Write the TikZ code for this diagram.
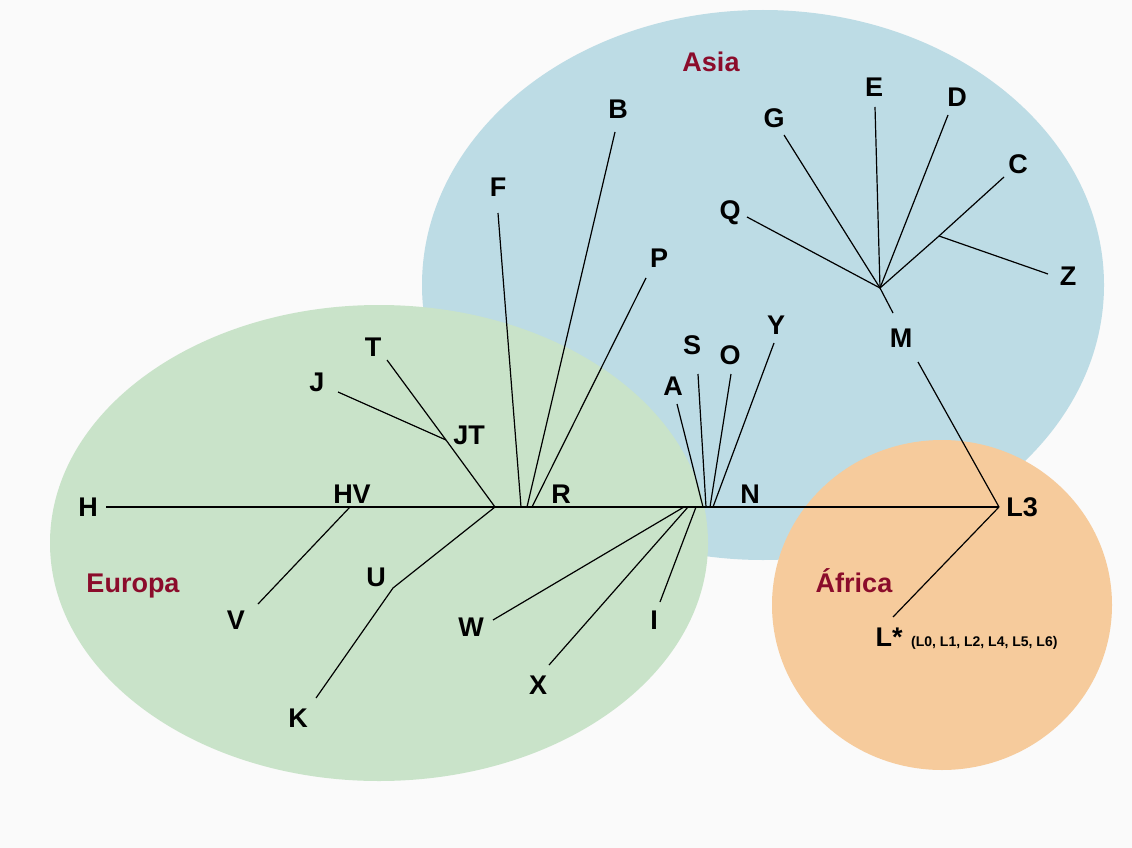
\documentclass[tikz,border=0pt]{standalone}
\usepackage{fontspec}
\setmainfont{Liberation Sans}
\definecolor{asiablue}{HTML}{BDDCE5}
\definecolor{eugreen}{HTML}{C9E3C9}
\definecolor{afrorange}{HTML}{F6CB9C}
\definecolor{regred}{HTML}{8B0C2B}
\definecolor{bgcol}{HTML}{FAFAFA}
\begin{document}
\begin{tikzpicture}[x=1pt,y=-1pt,
  lab/.style={font=\bfseries\fontsize{27}{32}\selectfont, inner sep=0pt, text height=19.3pt, text depth=0pt},
  region/.style={lab, text=regred},
  small/.style={font=\bfseries\fontsize{14}{16}\selectfont, inner sep=0pt},
  branch/.style={line width=1.2pt, black},
]
\fill[bgcol] (0,0) rectangle (1132,848);
\useasboundingbox (0,0) rectangle (1132,848);
% regions
\fill[asiablue] (763,285) ellipse [x radius=341pt, y radius=275pt];
\fill[eugreen] (379,543) ellipse [x radius=329pt, y radius=238pt];
\fill[afrorange] (942,605) ellipse [x radius=170pt, y radius=165pt];
\node[region] (asia) at (711,62) {Asia};
\node[region] (europa) at (133,583) {Europa};
\node[region] (africa) at (854,583) {África};

% junctions on the main line
\coordinate (Hend) at (106,507);
\coordinate (HVj) at (350,507);
\coordinate (JTroot) at (495,507);
\coordinate (Fb) at (521,507);
\coordinate (Bb) at (527,507);
\coordinate (Pb) at (532,507);
\coordinate (Wb) at (684,507);
\coordinate (Xb) at (688,507);
\coordinate (Ib) at (696,507);
\coordinate (Ab) at (703,507);
\coordinate (Sb) at (706,507);
\coordinate (Ob) at (710,507);
\coordinate (Yb) at (713,507);
\coordinate (L3j) at (999,507);
% other junctions and free ends
\coordinate (Vend) at (258,604);
\coordinate (Uj) at (393,588);
\coordinate (Kend) at (316,698);
\coordinate (JTj) at (446,440);
\coordinate (Tend) at (387,360);
\coordinate (Jend) at (338,392);
\coordinate (Fend) at (498,213);
\coordinate (Bend) at (615,132);
\coordinate (Pend) at (646,278);
\coordinate (Aend) at (677,404);
\coordinate (Send) at (698,374);
\coordinate (Oend) at (731,374);
\coordinate (Yend) at (774,343);
\coordinate (Wend) at (493,620);
\coordinate (Xend) at (549,665);
\coordinate (Iend) at (660,602);
\coordinate (Mlow) at (918,362);
\coordinate (Mup) at (893,313);
\coordinate (Mj) at (880,288);
\coordinate (Qend) at (747,217);
\coordinate (Gend) at (784,135);
\coordinate (Eend) at (875,107);
\coordinate (Dend) at (948,115);
\coordinate (Cend) at (1004,177);
\coordinate (Zj) at (939,236);
\coordinate (Zend) at (1048,274);
\coordinate (Lsend) at (893,617);

% branches
\draw[branch] (Hend) -- (L3j);
\draw[branch] (HVj) -- (Vend);
\draw[branch] (JTroot) -- (Uj) -- (Kend);
\draw[branch] (JTroot) -- (JTj) -- (Tend);
\draw[branch] (JTj) -- (Jend);
\draw[branch] (Fb) -- (Fend);
\draw[branch] (Bb) -- (Bend);
\draw[branch] (Pb) -- (Pend);
\draw[branch] (Ab) -- (Aend);
\draw[branch] (Sb) -- (Send);
\draw[branch] (Ob) -- (Oend);
\draw[branch] (Yb) -- (Yend);
\draw[branch] (Wb) -- (Wend);
\draw[branch] (Xb) -- (Xend);
\draw[branch] (Ib) -- (Iend);
\draw[branch] (L3j) -- (Mlow);
\draw[branch] (Mup) -- (Mj);
\draw[branch] (Mj) -- (Qend);
\draw[branch] (Mj) -- (Gend);
\draw[branch] (Mj) -- (Eend);
\draw[branch] (Mj) -- (Dend);
\draw[branch] (Mj) -- (Zj) -- (Cend);
\draw[branch] (Zj) -- (Zend);
\draw[branch] (L3j) -- (Lsend);

% labels
\node[lab] (lH) at (88,507) {H};
\node[lab] (lHV) at (352,494) {HV};
\node[lab] (lV) at (236,620) {V};
\node[lab] (lU) at (376,577) {U};
\node[lab] (lK) at (298,718) {K};
\node[lab] (lJ) at (317,382) {J};
\node[lab] (lT) at (373,347) {T};
\node[lab] (lJT) at (469,435) {JT};
\node[lab] (lR) at (561,494) {R};
\node[lab] (lF) at (498,187) {F};
\node[lab] (lB) at (618,109) {B};
\node[lab] (lP) at (659,258) {P};
\node[lab] (lA) at (673,386) {A};
\node[lab] (lS) at (692,345) {S};
\node[lab] (lO) at (730,355) {O};
\node[lab] (lY) at (776,325) {Y};
\node[lab] (lN) at (750,494) {N};
\node[lab] (lW) at (471,627) {W};
\node[lab] (lX) at (538,685) {X};
\node[lab] (lI) at (654,620) {I};
\node[lab] (lM) at (901,338) {M};
\node[lab] (lQ) at (730,210) {Q};
\node[lab] (lG) at (774,118) {G};
\node[lab] (lE) at (874,87) {E};
\node[lab] (lD) at (957,97) {D};
\node[lab] (lC) at (1018,164) {C};
\node[lab] (lZ) at (1068,276) {Z};
\node[lab] (lL3) at (1022,507) {L3};
\node[lab] (lLs) at (889,637) {L*};
\node[small, anchor=west] (lLlist) at (911,643) {(L0, L1, L2, L4, L5, L6)};
\end{tikzpicture}
\end{document}
